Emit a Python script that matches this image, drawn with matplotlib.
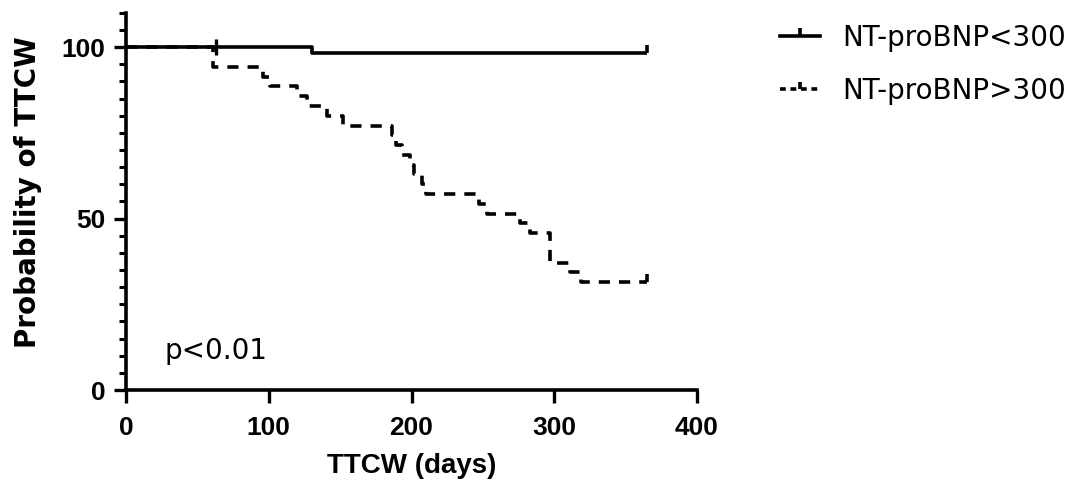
import matplotlib
matplotlib.use("Agg")
import matplotlib.pyplot as plt
from matplotlib.lines import Line2D
from matplotlib.ticker import MultipleLocator

plt.rcParams['font.family'] = ['Liberation Sans', 'DejaVu Sans']

# Kaplan-Meier steps (days, % without event)
lo_times = [0, 130, 365]
lo_surv = [100, 98.2, 98.2]
lo_cens_t = [63]
lo_cens_s = [100]
lo_end_t = [365]
lo_end_s = [98.2]

hi_times = [0, 61, 96, 101, 120, 127, 141, 152, 186, 189, 193, 199, 202, 207, 210,
            247, 253, 276, 283, 297, 311, 319, 365]
hi_surv = [100, 94.3, 91.4, 88.6, 85.7, 82.9, 80.0, 77.1, 74.3, 71.4, 68.6, 65.7, 62.9, 60.0, 57.1,
           54.3, 51.4, 48.6, 45.7, 37.1, 34.3, 31.4, 31.4]
hi_cens_t = [365]
hi_cens_s = [31.4]

labels = ['NT-proBNP<300', 'NT-proBNP>300']

fig = plt.figure(figsize=(10.8, 4.91), dpi=100)
ax = fig.add_axes([0.1167, 0.2057, 0.5287, 0.768])

lw = 2.6
ax.step(lo_times, lo_surv, where='post', color='black', lw=lw, solid_capstyle='butt')
ax.plot(lo_cens_t, lo_cens_s, ls='none', marker='|', ms=11, mew=2.4, color='black')
ax.plot(lo_end_t, lo_end_s, ls='none', marker=2, ms=6, mew=2.6, color='black')

ax.step(hi_times, hi_surv, where='post', color='black', lw=lw, dashes=(3.1, 2.5))
ax.plot(hi_cens_t, hi_cens_s, ls='none', marker=2, ms=6, mew=2.6, color='black')

ax.set_xlim(0, 400)
ax.set_ylim(0, 110)
ax.set_xticks([0, 100, 200, 300, 400])
ax.set_yticks([0, 50, 100])
ax.yaxis.set_minor_locator(MultipleLocator(5))

for s in ['top', 'right']:
    ax.spines[s].set_visible(False)
for s in ['left', 'bottom']:
    ax.spines[s].set_linewidth(2.6)
ax.spines['left'].set_bounds(0, 110)

ax.tick_params(axis='both', which='major', direction='out', length=9, width=2.4,
               labelsize=19)
ax.tick_params(axis='x', which='major', pad=10)
ax.tick_params(axis='y', which='major', pad=6)
ax.tick_params(axis='y', which='minor', direction='out', length=5, width=2.2)
for t in ax.get_xticklabels() + ax.get_yticklabels():
    t.set_fontweight('bold')

ax.set_xlabel('TTCW (days)', fontsize=20, fontweight='bold', labelpad=9)
ax.set_ylabel('Probability of TTCW', fontsize=20, fontweight='bold',
              family=['DejaVu Sans'])
ax.yaxis.set_label_coords(-0.148, 0.525)

ax.text(27, 11.5, 'p<0.01', fontsize=20, va='center', ha='left', family=['DejaVu Sans'])

handles = [
    Line2D([0, 1], [0, 0], color='black', lw=lw, marker=2, ms=6, mew=2.6),
    Line2D([0, 1], [0, 0], color='black', lw=lw, dashes=(1.6, 1.3), marker=2, ms=5, mew=2.6),
]
leg = fig.legend(handles, labels, loc='upper left', bbox_to_anchor=(780 / 1080, 1 - 24 / 491),
                 frameon=False, handlelength=1.45, handletextpad=0.8,
                 labelspacing=0.9, numpoints=1, borderpad=0, borderaxespad=0,
                 prop={'family': ['DejaVu Sans'], 'size': 20})

fig.savefig('out.png', dpi=100)
